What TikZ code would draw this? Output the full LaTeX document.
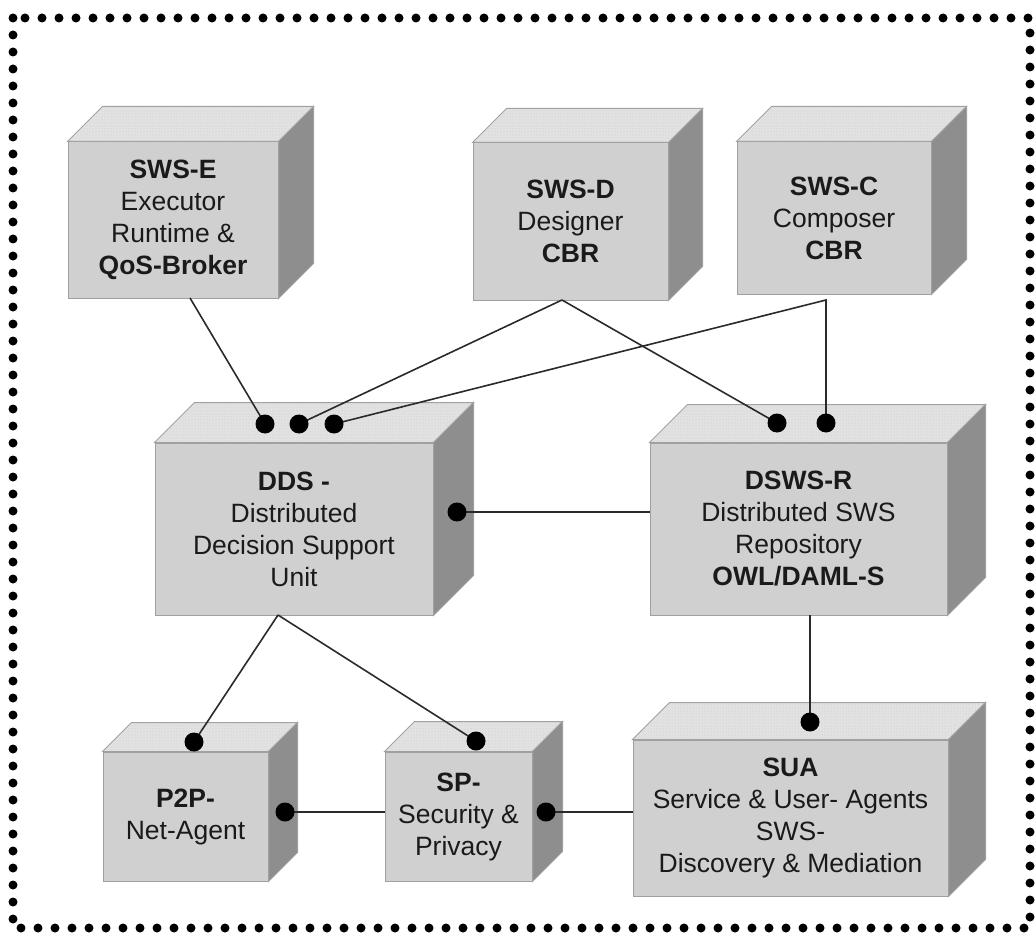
\documentclass[tikz,border=0pt]{standalone}
\usepackage{fontspec}
\setmainfont{Liberation Sans}
\usetikzlibrary{patterns,calc}
\definecolor{frontc}{HTML}{D0D0D0}
\definecolor{sidec}{HTML}{8E8E8E}
\definecolor{topc}{HTML}{E2E2E2}
\definecolor{topdot}{HTML}{C6C6C6}
\definecolor{edgec}{HTML}{A0A0A0}
\definecolor{txtc}{HTML}{1A1A1A}
\definecolor{linec}{HTML}{2A2A2A}
\tikzset{
  front/.style={rectangle, fill=frontc, draw=edgec, line width=1pt, inner sep=0pt,
    align=center, text=txtc, font=\fontsize{26.5}{32}\selectfont},
  topface/.style={fill=topc, draw=edgec, line width=1pt},
  topdots/.style={pattern=dots, pattern color=topdot},
  sideface/.style={fill=sidec, draw=edgec, line width=1pt},
  conn/.style={draw=linec, line width=1.6pt},
  dotnode/.style={circle, inner sep=0pt, minimum size=19pt},
  dotfill/.style={fill=black},
  frame/.style={draw=black, line width=9pt, dash pattern=on 0pt off 17pt, line cap=round}
}
% name, x1, y1, x2, y2, depth, text
\newcommand{\cubeat}[7]{%
  \node[front, minimum width={#4-#2}, minimum height={#5-#3}] (#1) at ({(#2+#4)/2},{(#3+#5)/2}) {#7};
  \path[topface] (#1.north west) -- ++(#6,-#6) -- ([shift={(#6,-#6)}]#1.north east) -- (#1.north east) -- cycle;
  \fill[topdots] (#1.north west) -- ++(#6,-#6) -- ([shift={(#6,-#6)}]#1.north east) -- (#1.north east) -- cycle;
  \path[sideface] (#1.north east) -- ([shift={(#6,-#6)}]#1.north east) -- ([shift={(#6,-#6)}]#1.south east) -- (#1.south east) -- cycle;
}
\begin{document}
\begin{tikzpicture}[x=1pt,y=-1pt]
\useasboundingbox (0,0) rectangle (1036,936);
\draw[frame] (13,18) rectangle (1030,928);

\cubeat{swse}{68}{142}{278}{298}{35}{\textbf{SWS-E}\\Executor\\Runtime \&\\\textbf{QoS-Broker}}
\cubeat{swsd}{473}{143}{668}{300}{34}{\textbf{SWS-D}\\Designer\\\textbf{CBR}}
\cubeat{swsc}{737}{142}{931}{294}{35}{\textbf{SWS-C}\\Composer\\\textbf{CBR}}
\cubeat{dds}{155}{443}{433}{615}{40}{\textbf{DDS -}\\Distributed\\Decision Support\\Unit}
\cubeat{dswsr}{650}{443}{947}{615}{38}{\textbf{DSWS-R}\\Distributed SWS\\Repository\\\textbf{OWL/DAML-S}}
\cubeat{p2p}{103}{752}{268}{881}{29}{\textbf{P2P-}\\Net-Agent}
\cubeat{sp}{385}{752}{532}{881}{30}{\textbf{SP-}\\Security \&\\Privacy}
\cubeat{sua}{633}{740}{948}{896}{37}{\textbf{SUA}\\Service \& User- Agents\\SWS-\\Discovery \& Mediation}

% attachment points
\coordinate (eS) at (190,298);
\coordinate (dS) at (562,300);
\coordinate (cS) at (826,300);
\coordinate (ddsB) at (278,615);
\coordinate (rB) at (810,615);
\coordinate (rW) at (650,512);
\coordinate (spW) at (385,812);
\coordinate (suaW) at (633,812);

% dots (positions)
\node[dotnode] (k1) at (265,424) {};
\node[dotnode] (k2) at (299,424) {};
\node[dotnode] (k3) at (334,424) {};
\node[dotnode] (r1) at (777,423) {};
\node[dotnode] (r2) at (826,423) {};
\node[dotnode] (kR) at (457,512) {};
\node[dotnode] (p1) at (194,742) {};
\node[dotnode] (s1) at (476,741) {};
\node[dotnode] (u1) at (810,722) {};
\node[dotnode] (p2) at (285,812) {};
\node[dotnode] (s2) at (546,812) {};

% connectors
\draw[conn] (eS) -- (k1.center);
\draw[conn] (dS) -- (k2.center);
\draw[conn] (dS) -- (r1.center);
\draw[conn] (k3.center) -- (cS) -- (r2.center);
\draw[conn] (kR.center) -- (rW);
\draw[conn] (ddsB) -- (p1.center);
\draw[conn] (ddsB) -- (s1.center);
\draw[conn] (rB) -- (u1.center);
\draw[conn] (p2.center) -- (spW);
\draw[conn] (s2.center) -- (suaW);

% dots drawn on top of the connectors
\foreach \d in {k1,k2,k3,r1,r2,kR,p1,s1,u1,p2,s2}{
  \fill[dotfill] (\d) circle (9.5);
}
\end{tikzpicture}
\end{document}
